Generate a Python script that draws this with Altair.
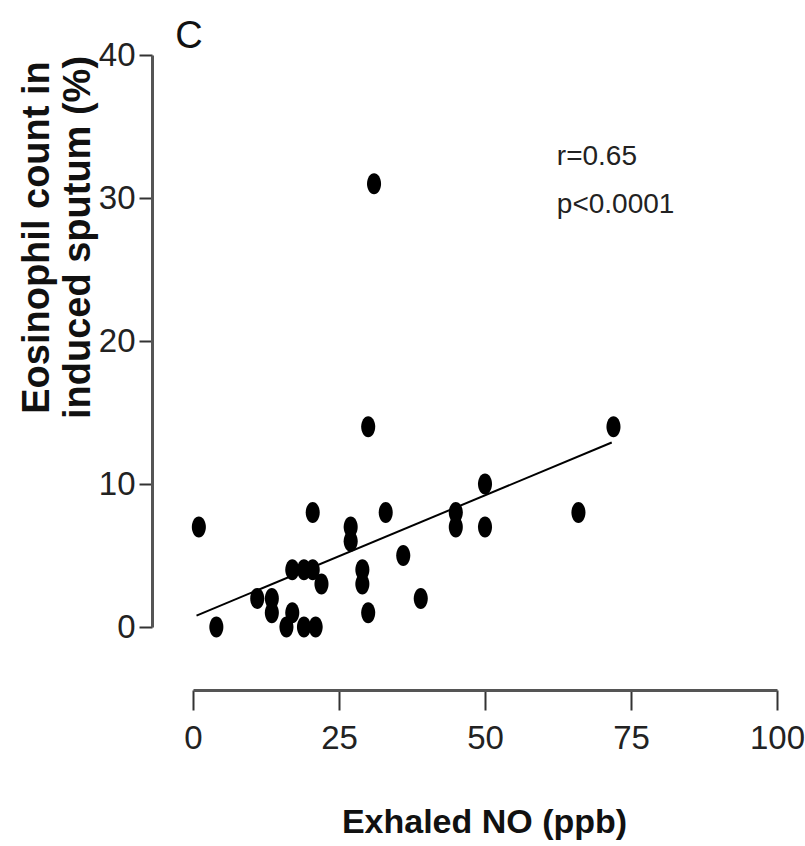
import altair as alt
import pandas as pd

# Scatter data (Exhaled NO ppb, eosinophil %)
no_ppb = [1, 4, 11, 13.5, 13.5, 16, 17, 17, 19, 19, 20.5, 20.5, 21, 22,
          27, 27, 29, 29, 30, 30, 31, 33, 36, 39, 45, 45, 50, 50, 66, 72]
eos_pct = [7, 0, 2, 2, 1, 0, 4, 1, 0, 4, 8, 4, 0, 3,
           7, 6, 4, 3, 1, 14, 31, 8, 5, 2, 8, 7, 10, 7, 8, 14]

# Fitted regression line end points
fit_x = [0.6, 71.7]
fit_y = [0.8, 12.9]

ann_text = ["r=0.65", "p<0.0001"]
ann_x = [62.3, 62.3]
ann_y = [32.3, 28.95]

x_ticks = [0, 25, 50, 75, 100]
y_ticks = [0, 10, 20, 30, 40]

FONT = "Liberation Sans, Arial, sans-serif"

pts = pd.DataFrame({"x": no_ppb, "y": eos_pct})
fit = pd.DataFrame({"x": fit_x, "y": fit_y})
ann = pd.DataFrame({"x": ann_x, "y": ann_y, "t": ann_text})

xscale = alt.Scale(domain=[0, 100], nice=False, zero=False)
yscale = alt.Scale(domain=[0, 40], nice=False, zero=False)

xaxis = alt.Axis(
    values=x_ticks, title="Exhaled NO (ppb)", grid=False, offset=63,
    tickSize=20, tickWidth=2, tickColor="#333", domainColor="#555", domainWidth=3,
    labelFont=FONT, labelFontSize=33, labelColor="#222", labelPadding=12,
    labelFlush=False, labelOverlap=False,
    titleFont=FONT, titleFontSize=34, titleFontWeight="bold", titleColor="#111",
    titleBaseline="alphabetic", titleX=291, titleY=142,
)
yaxis = alt.Axis(
    values=y_ticks, title=["Eosinophil count in", "induced sputum (%)"], grid=False,
    offset=41, tickSize=13, tickWidth=2, tickColor="#333", domainColor="#555",
    domainWidth=3, labelFont=FONT, labelFontSize=33, labelColor="#222",
    labelPadding=4, labelFlush=False, labelOverlap=False,
    titleFont=FONT, titleFontSize=38, titleFontWeight="bold",
    titleColor="#111", titleLineHeight=41, titleBaseline="alphabetic",
    titleX=-104, titleY=182, titleAngle=270,
)

ellipse = "M0,-1 A0.67,1 0 1,1 0,1 A0.67,1 0 1,1 0,-1 Z"

points = alt.Chart(pts).mark_point(
    shape=ellipse, filled=True, color="#000", opacity=1, size=441
).encode(
    x=alt.X("x:Q", scale=xscale, axis=xaxis),
    y=alt.Y("y:Q", scale=yscale, axis=yaxis),
)

line = alt.Chart(fit).mark_line(color="#000", strokeWidth=2).encode(
    x=alt.X("x:Q", scale=xscale), y=alt.Y("y:Q", scale=yscale)
)

text = alt.Chart(ann).mark_text(
    align="left", baseline="alphabetic", font=FONT, fontSize=28, color="#222"
).encode(x=alt.X("x:Q", scale=xscale), y=alt.Y("y:Q", scale=yscale), text="t:N")

panel = alt.Chart(pd.DataFrame({"t": ["C"]})).mark_text(
    align="center", baseline="alphabetic", font=FONT, fontSize=38, color="#111"
).encode(x=alt.value(-4), y=alt.value(-7), text="t:N")

chart = alt.layer(points, line, text, panel).properties(
    width=584, height=572,
    padding={"left": 193, "top": 55, "right": 28, "bottom": 219},
    autosize=alt.AutoSizeParams(type="none"),
    background="white",
).configure_view(strokeWidth=0)

chart.save("out.html", embed_options={"renderer": "svg", "actions": False})
